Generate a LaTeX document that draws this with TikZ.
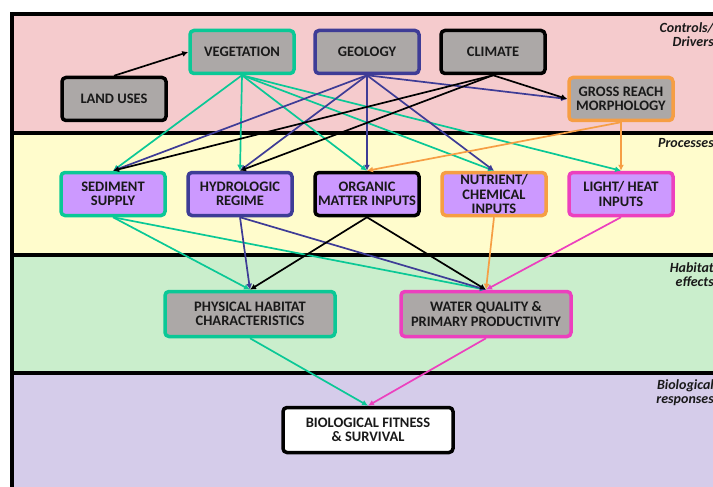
\documentclass[tikz,border=0pt]{standalone}
\usepackage{fontspec}
\setmainfont{Carlito}
\usepackage{xcolor}
\usepackage{tikz}
\usetikzlibrary{arrows.meta}

\definecolor{bandpink}{RGB}{245,203,205}
\definecolor{bandyellow}{RGB}{255,252,204}
\definecolor{bandgreen}{RGB}{202,238,204}
\definecolor{bandpurple}{RGB}{213,204,234}
\definecolor{boxgray}{RGB}{172,168,167}
\definecolor{boxpurple}{RGB}{204,153,255}
\definecolor{cteal}{RGB}{10,200,150}
\definecolor{cblue}{RGB}{62,60,150}
\definecolor{corange}{RGB}{246,158,68}
\definecolor{cmagenta}{RGB}{236,64,190}

\begin{document}
\begin{tikzpicture}[x=1pt, y=-1pt,
        box/.style={draw, line width=3.5pt, rounded corners=4pt, minimum width=104pt, minimum height=43pt, align=center, inner sep=1pt, font=\fontsize{14.5}{14.5}\selectfont\bfseries, text=black!90},
        driver/.style={box, fill=boxgray},
        process/.style={box, fill=boxpurple},
        effect/.style={box, fill=boxgray, minimum width=170pt, minimum height=45pt},
        band/.style={anchor=north east, align=right, inner sep=0pt, font=\fontsize{14}{14}\selectfont\bfseries\itshape, text=black!90},
        flow/.style={-{Latex[length=6pt, width=6pt]}, line width=1.7pt}
    ]
        \useasboundingbox (0,0) rectangle (713,487);
        \clip (0,0) rectangle (713,487);

        % bands
        \fill[bandpink] (12,14) rectangle (740,133);
        \fill[bandyellow] (12,133) rectangle (740,255);
        \fill[bandgreen] (12,255) rectangle (740,373);
        \fill[bandpurple] (12,373) rectangle (740,500);
        \draw[line width=4pt] (12,133) -- (740,133);
        \draw[line width=4pt] (12,255) -- (740,255);
        \draw[line width=4pt] (12,373) -- (740,373);
        \draw[line width=4pt] (12,14) rectangle (740,500);

        \node[band] (lbldrivers) at (714,22) {Controls/\\Drivers};
        \node[band] (lblprocess) at (714,138) {Processes};
        \node[band] (lbleffects) at (714,262) {Habitat\\effects};
        \node[band] (lblbio) at (714,379) {Biological\\responses};

        % controls / drivers
        \node[driver, draw=cteal] (veg) at (242,52) {VEGETATION};
        \node[driver, draw=cblue] (geo) at (367,52) {GEOLOGY};
        \node[driver, draw=black] (climate) at (493,52) {CLIMATE};
        \node[driver, draw=black] (landuse) at (114,99) {LAND USES};
        \node[driver, draw=corange] (gross) at (621,99) {GROSS REACH\\MORPHOLOGY};

        % processes
        \node[process, draw=cteal] (sediment) at (113,194) {SEDIMENT\\SUPPLY};
        \node[process, draw=cblue] (hydro) at (240,194) {HYDROLOGIC\\REGIME};
        \node[process, draw=black] (organic) at (367,194) {ORGANIC\\MATTER INPUTS};
        \node[process, draw=corange] (nutrient) at (494,194) {NUTRIENT/\\CHEMICAL\\INPUTS};
        \node[process, draw=cmagenta] (light) at (621,194) {LIGHT/ HEAT\\INPUTS};

        % habitat effects and response
        \node[effect, draw=cteal] (habitat) at (250,314) {PHYSICAL HABITAT\\CHARACTERISTICS};
        \node[effect, draw=cmagenta] (quality) at (486,314) {WATER QUALITY \&\\PRIMARY PRODUCTIVITY};
        \node[effect, draw=black, fill=white] (fitness) at (368,430) {BIOLOGICAL FITNESS\\\& SURVIVAL};

        \draw[flow] (landuse.north) -- (veg.west);

        \draw[flow, cteal] (veg.south) -- (sediment.north);
        \draw[flow, cteal] (veg.south) -- (hydro.north);
        \draw[flow, cteal] (veg.south) -- (organic.north);
        \draw[flow, cteal] (veg.south) -- (nutrient.north);
        \draw[flow, cteal] (veg.south) -- (light.north);

        \draw[flow, cblue] (geo.south) -- (sediment.north);
        \draw[flow, cblue] (geo.south) -- (hydro.north);
        \draw[flow, cblue] (geo.south) -- (organic.north);
        \draw[flow, cblue] (geo.south) -- (nutrient.north);
        \draw[flow, cblue] (geo.south) -- (gross.west);

        \draw[flow] (climate.south) -- (sediment.north);
        \draw[flow] (climate.south) -- (hydro.north);
        \draw[flow] (climate.south) -- (gross.west);

        \draw[flow, corange] (gross.south) -- (organic.north);
        \draw[flow, corange] (gross.south) -- (light.north);

        \draw[flow, cteal] (sediment.south) -- (habitat.north);
        \draw[flow, cteal] (sediment.south) -- (quality.north);
        \draw[flow, cblue] (hydro.south) -- (habitat.north);
        \draw[flow, cblue] (hydro.south) -- (quality.north);
        \draw[flow] (organic.south) -- (habitat.north);
        \draw[flow] (organic.south) -- (quality.north);
        \draw[flow, corange] (nutrient.south) -- (quality.north);
        \draw[flow, cmagenta] (light.south) -- (quality.north);

        \draw[flow, cteal] (habitat.south) -- (fitness.north);
        \draw[flow, cmagenta] (quality.south) -- (fitness.north);
    \end{tikzpicture}
\end{document}
